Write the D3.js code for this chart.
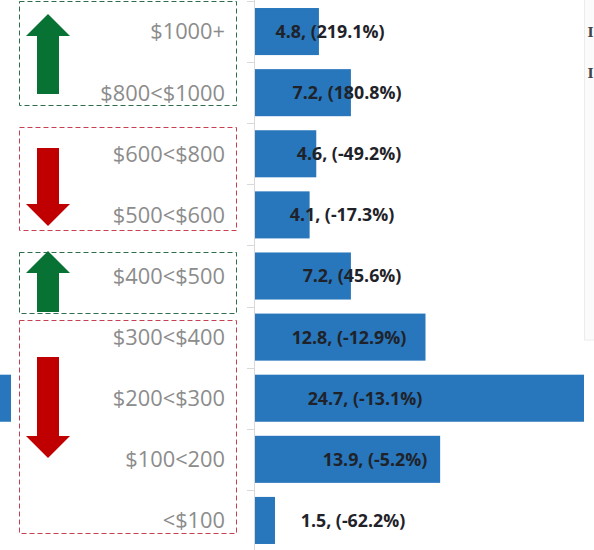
<!DOCTYPE html>
<html>
<head>
<meta charset="utf-8">
<script src="https://cdn.jsdelivr.net/npm/d3@7"></script>
<style>
  html, body { margin: 0; padding: 0; background: #fff; }
  svg { display: block; }
</style>
</head>
<body>
<svg id="chart" width="594" height="550"></svg>
<script>
// ---- data ----
const categories = ["$1000+", "$800<$1000", "$600<$800", "$500<$600", "$400<$500",
                    "$300<$400", "$200<$300", "$100<200", "<$100"];
const values  = [4.8, 7.2, 4.6, 4.1, 7.2, 12.8, 24.7, 13.9, 1.5];
const changes = [219.1, 180.8, -49.2, -17.3, 45.6, -12.9, -13.1, -5.2, -62.2];
// trend groups (first/last category index, direction)
const groupFrom = [0, 2, 4, 5];
const groupTo   = [1, 3, 4, 8];
const groupDir  = ["up", "down", "up", "down"];

// ---- layout ----
const W = 594, H = 550;
const axisX = 255;
const labelCx = [330, 347, 349, 342, 352, 349, 365, 375, 353];
const boxes = [ {y0: 1, y1: 105}, {y0: 127, y1: 230}, {y0: 252, y1: 313}, {y0: 320, y1: 533} ];
const arrows = [ {y0: 14, y1: 94}, {y0: 148, y1: 226}, {y0: 251, y1: 312}, {y0: 357, y1: 458} ];

const svg = d3.select("#chart");

const y = d3.scaleBand().domain(categories).range([1, 551])
  .paddingInner(0.23).paddingOuter(0.115);
const x = d3.scaleLinear().domain([0, 24.7]).range([axisX, 584]);

// right-side neighbouring panel fragment
svg.append("rect").attr("x", 584.5).attr("y", -1).attr("width", 20).attr("height", 341)
  .attr("fill", "#fbfbfb").attr("stroke", "#ececec");
svg.selectAll("text.frag").data([37, 78]).enter().append("text")
  .attr("class", "frag").attr("x", 593.5).attr("y", d => d)
  .attr("text-anchor", "end")
  .attr("font-family", "DejaVu Serif").attr("font-weight", "bold").attr("font-size", 13)
  .attr("fill", "#444").text("I");

// left neighbouring chart fragment
svg.append("rect").attr("x", 0).attr("y", y(categories[6]))
  .attr("width", 11).attr("height", y.bandwidth()).attr("fill", "#2876bc");

// axis
const axis = d3.axisLeft(y).tickSize(8).tickFormat("");
const gAxis = svg.append("g").attr("transform", `translate(${axisX},0)`).call(axis);
gAxis.select(".domain").attr("stroke", "#d9d9d9").attr("d", `M-0.5,0V${H}`);
gAxis.selectAll(".tick").remove();
const bounds = d3.range(categories.length + 1).map(i => y.range()[0] + i * y.step());
gAxis.selectAll("line.b").data(bounds).enter().append("line")
  .attr("class", "b").attr("x1", -8).attr("x2", 0)
  .attr("y1", d => Math.round(d) + 0.5).attr("y2", d => Math.round(d) + 0.5)
  .attr("stroke", "#d9d9d9");

// bars
svg.selectAll("rect.bar").data(values).enter().append("rect")
  .attr("class", "bar")
  .attr("x", x(0))
  .attr("y", (d, i) => y(categories[i]))
  .attr("width", d => x(d) - x(0))
  .attr("height", y.bandwidth())
  .attr("fill", "#2876bc");

// data labels
svg.selectAll("text.val").data(values).enter().append("text")
  .attr("class", "val")
  .attr("x", (d, i) => labelCx[i])
  .attr("y", (d, i) => y(categories[i]) + y.bandwidth() / 2)
  .attr("dy", "0.36em")
  .attr("text-anchor", "middle")
  .attr("font-family", "Open Sans").attr("font-weight", "bold").attr("font-size", 17.8)
  .attr("fill", "#1f2329")
  .text((d, i) => `${d.toFixed(1)}, (${changes[i].toFixed(1)}%)`);

// category labels
svg.selectAll("text.cat").data(categories).enter().append("text")
  .attr("class", "cat")
  .attr("x", 225)
  .attr("y", d => y(d) + y.bandwidth() / 2)
  .attr("dy", "0.36em")
  .attr("text-anchor", "end")
  .attr("font-family", "Open Sans").attr("font-size", 21.8)
  .attr("fill", "#8c8c8c")
  .text(d => d);

// dashed trend boxes
const boxColor = { up: "#2f6e4a", down: "#c8404f" };
svg.selectAll("rect.box").data(groupDir).enter().append("rect")
  .attr("class", "box")
  .attr("x", 19.5).attr("width", 217)
  .attr("y", (d, i) => boxes[i].y0 + 0.5)
  .attr("height", (d, i) => boxes[i].y1 - boxes[i].y0)
  .attr("fill", "none")
  .attr("stroke", d => boxColor[d])
  .attr("stroke-width", 1)
  .attr("stroke-dasharray", "5,3");

// arrows
const arrowColor = { up: "#087234", down: "#c00000" };
const cx = 48, headW = 22, shaftW = 11, headH = 22;
function arrowPath(dir, y0, y1) {
  if (dir === "up") {
    const b = y0 + headH;
    return `M${cx},${y0} L${cx + headW},${b} L${cx + shaftW},${b} L${cx + shaftW},${y1}
            L${cx - shaftW},${y1} L${cx - shaftW},${b} L${cx - headW},${b} Z`;
  } else {
    const b = y1 - headH;
    return `M${cx - shaftW},${y0} L${cx + shaftW},${y0} L${cx + shaftW},${b} L${cx + headW},${b}
            L${cx},${y1} L${cx - headW},${b} L${cx - shaftW},${b} Z`;
  }
}
svg.selectAll("path.arrow").data(groupDir).enter().append("path")
  .attr("class", "arrow")
  .attr("d", (d, i) => arrowPath(d, arrows[i].y0, arrows[i].y1))
  .attr("fill", d => arrowColor[d]);
</script>
</body>
</html>
